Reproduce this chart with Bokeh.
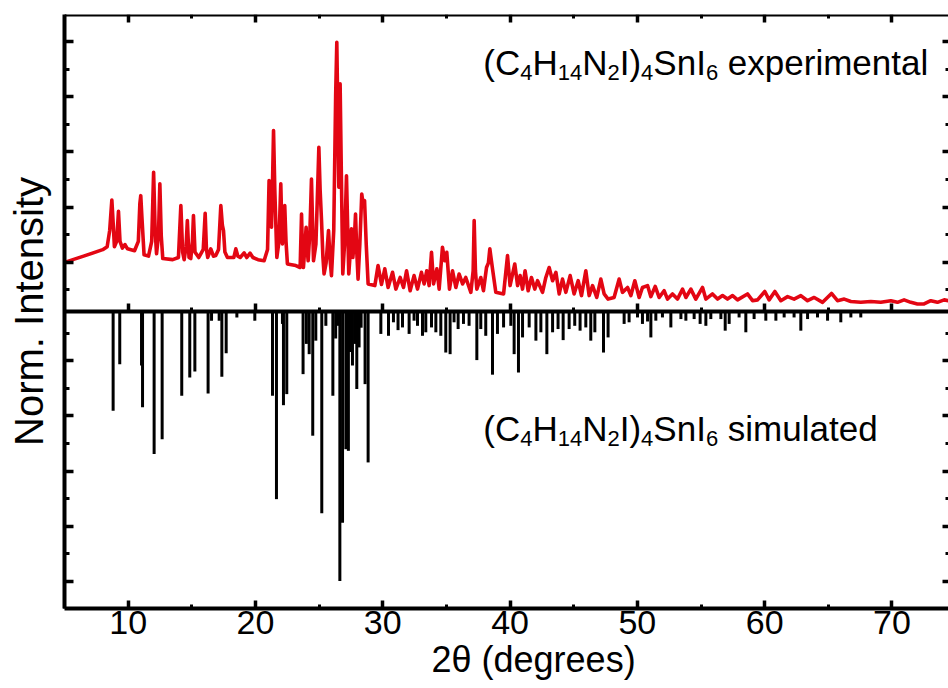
from bokeh.plotting import figure
from bokeh.models import Range1d, LinearAxis, FixedTicker, Label, Title, CustomJSTickFormatter
from bokeh.embed import file_html
from bokeh.resources import INLINE

# ---------------- data ----------------
exp_x = [5.00, 6.50, 8.00, 8.35, 8.55, 8.72, 8.82, 8.92, 9.10, 9.24, 9.36, 9.55, 9.75, 9.95,
         10.50, 10.80, 10.92, 10.99, 11.08, 11.25, 11.60, 11.85, 12.00, 12.12, 12.23, 12.38,
         12.49, 12.60, 12.72, 13.50, 13.95, 14.14, 14.28, 14.40, 14.55, 14.65, 14.78, 14.92,
         15.05, 15.13, 15.25, 15.55, 15.90, 16.05, 16.15, 16.25, 16.49, 16.70, 16.88, 17.10,
         17.28, 17.40, 17.49, 17.60, 17.80, 18.30, 18.46, 18.62, 18.80, 19.11, 19.32, 19.58,
         19.80, 20.20, 20.68, 20.95, 21.07, 21.18, 21.26, 21.35, 21.42, 21.52, 21.68, 21.85,
         21.99, 22.08, 22.12, 22.22, 22.30, 22.40, 22.51, 23.17, 23.51, 23.62, 23.70, 23.77,
         23.88, 23.98, 24.06, 24.14, 24.28, 24.40, 24.50, 24.56, 24.75, 24.90, 24.98, 25.08,
         25.19, 25.30, 25.39, 25.55, 25.74, 25.85, 25.97, 26.15, 26.30, 26.39, 26.48, 26.55,
         26.65, 26.75, 26.86, 27.00, 27.15, 27.25, 27.33, 27.45, 27.54, 27.65, 27.75, 27.86,
         27.96, 28.06, 28.20, 28.35, 28.45, 28.57, 28.70, 28.85, 29.38, 29.63, 29.90, 30.16,
         30.42, 30.77, 31.03, 31.37, 31.63, 31.87, 32.15, 32.46, 32.73, 33.04, 33.25, 33.46,
         33.64, 33.83, 33.99, 34.25, 34.43, 34.69, 34.87, 35.03, 35.24, 35.48, 35.74, 36.00,
         36.27, 36.52, 36.92, 37.10, 37.18, 37.28, 37.39, 37.70, 37.91, 38.15, 38.30, 38.41,
         38.62, 38.88, 39.49, 39.80, 40.00, 40.37, 40.59, 40.79, 40.98, 41.18, 41.42, 41.68,
         41.94, 42.16, 42.55, 42.81, 43.07, 43.34, 43.60, 43.86, 44.12, 44.38, 44.72, 45.03,
         45.35, 45.61, 45.95, 46.21, 46.48, 46.81, 47.13, 47.39, 47.70, 48.17, 48.57, 48.83,
         49.23, 49.49, 49.80, 50.14, 50.40, 50.80, 51.06, 51.40, 51.71, 52.10, 52.37, 52.76,
         53.15, 53.55, 53.81, 54.20, 54.59, 55.12, 55.38, 55.90, 56.30, 56.69, 57.08, 57.48,
         57.87, 58.65, 59.05, 59.44, 60.01, 60.35, 60.80, 61.27, 61.80, 62.31, 62.84, 63.37,
         63.89, 64.55, 65.25, 65.72, 66.25, 66.77, 67.55, 68.34, 69.12, 69.91, 70.43, 70.95,
         71.48, 72.00, 72.52, 73.05, 73.57, 74.10, 74.44]
exp_y = [0.182, 0.205, 0.229, 0.240, 0.300, 0.413, 0.330, 0.240, 0.260, 0.371, 0.260, 0.235, 0.248, 0.232,
         0.225, 0.260, 0.400, 0.429, 0.350, 0.210, 0.205, 0.260, 0.516, 0.300, 0.214, 0.280,
         0.473, 0.280, 0.196, 0.192, 0.200, 0.392, 0.220, 0.192, 0.240, 0.337, 0.200, 0.196,
         0.260, 0.355, 0.220, 0.200, 0.230, 0.364, 0.230, 0.200, 0.232, 0.205, 0.207, 0.230,
         0.392, 0.320, 0.300, 0.220, 0.200, 0.200, 0.232, 0.205, 0.200, 0.217, 0.200, 0.216,
         0.200, 0.192, 0.188, 0.230, 0.485, 0.380, 0.312, 0.500, 0.670, 0.450, 0.200, 0.260,
         0.473, 0.300, 0.250, 0.330, 0.392, 0.260, 0.176, 0.170, 0.163, 0.361, 0.200, 0.163,
         0.240, 0.312, 0.230, 0.188, 0.300, 0.491, 0.300, 0.188, 0.250, 0.480, 0.608, 0.450,
         0.337, 0.200, 0.139, 0.180, 0.300, 0.200, 0.133, 0.300, 0.800, 0.997, 0.700, 0.460,
         0.843, 0.500, 0.139, 0.250, 0.503, 0.300, 0.139, 0.220, 0.306, 0.200, 0.250, 0.361,
         0.220, 0.120, 0.250, 0.435, 0.400, 0.411, 0.250, 0.102, 0.096, 0.170, 0.100, 0.158,
         0.089, 0.145, 0.083, 0.126, 0.089, 0.151, 0.077, 0.133, 0.083, 0.145, 0.102, 0.151,
         0.096, 0.219, 0.102, 0.158, 0.083, 0.238, 0.188, 0.219, 0.083, 0.151, 0.089, 0.139,
         0.102, 0.126, 0.071, 0.150, 0.337, 0.150, 0.083, 0.126, 0.077, 0.163, 0.180, 0.232,
         0.158, 0.071, 0.065, 0.207, 0.096, 0.176, 0.096, 0.133, 0.083, 0.151, 0.077, 0.126,
         0.083, 0.114, 0.071, 0.126, 0.163, 0.114, 0.145, 0.065, 0.120, 0.071, 0.133, 0.065,
         0.114, 0.059, 0.151, 0.059, 0.096, 0.052, 0.120, 0.065, 0.046, 0.052, 0.120, 0.071,
         0.089, 0.059, 0.114, 0.052, 0.089, 0.096, 0.055, 0.093, 0.052, 0.077, 0.046, 0.065,
         0.046, 0.083, 0.052, 0.083, 0.046, 0.089, 0.046, 0.065, 0.046, 0.059, 0.046, 0.059,
         0.043, 0.065, 0.040, 0.043, 0.074, 0.043, 0.074, 0.040, 0.055, 0.046, 0.059, 0.040,
         0.052, 0.034, 0.067, 0.040, 0.046, 0.037, 0.034, 0.037, 0.034, 0.040, 0.034, 0.043,
         0.034, 0.028, 0.028, 0.040, 0.034, 0.043, 0.040]

sim_x = [8.82, 9.34, 11.05, 11.13, 12.04, 12.67, 14.21, 14.84, 15.24, 16.28, 16.55, 17.15,
         17.36, 17.70, 18.54, 19.95, 21.34, 21.65, 22.12, 22.20, 22.46, 23.74, 24.00, 24.22,
         24.50, 24.74, 25.21, 25.53, 26.08, 26.30, 26.49, 26.63, 26.84, 27.10, 27.30, 27.45,
         27.62, 27.80, 27.96, 28.14, 28.30, 28.61, 28.85, 29.85, 30.45, 30.84, 31.20, 31.55,
         32.07, 32.46, 32.73, 33.12, 33.38, 33.83, 34.17, 34.56, 34.95, 35.29, 35.60, 35.92,
         36.34, 36.78, 37.39, 37.70, 38.09, 38.62, 39.01, 39.49, 40.06, 40.32, 40.66, 40.98,
         41.50, 42.03, 42.42, 42.89, 43.34, 43.77, 44.17, 44.64, 45.08, 45.50, 45.95, 46.34,
         46.66, 47.34, 47.70, 48.96, 49.35, 50.01, 50.40, 50.80, 51.06, 51.45, 51.97, 52.63,
         53.42, 53.81, 54.46, 54.93, 55.38, 55.77, 56.56, 56.90, 57.21, 57.99, 58.52, 59.17,
         60.09, 60.88, 61.53, 62.31, 62.84, 63.37, 64.15, 64.94, 65.98, 66.77, 67.55]
sim_y = [-0.368, -0.195, -0.200, -0.355, -0.528, -0.473, -0.312, -0.244, -0.222, -0.304, -0.034, -0.034,
         -0.242, -0.155, -0.022, -0.034, -0.312, -0.695, -0.046, -0.347, -0.306, -0.232, -0.120, -0.158,
         -0.460, -0.108, -0.747, -0.053, -0.312, -0.100, -0.053, -0.998, -0.782, -0.510, -0.516, -0.150,
         -0.200, -0.120, -0.287, -0.133, -0.060, -0.269, -0.559, -0.083, -0.090, -0.040, -0.069, -0.059,
         -0.083, -0.034, -0.053, -0.090, -0.077, -0.059, -0.077, -0.090, -0.152, -0.158, -0.040, -0.065,
         -0.046, -0.053, -0.180, -0.065, -0.090, -0.234, -0.083, -0.059, -0.053, -0.158, -0.226, -0.096,
         -0.059, -0.108, -0.077, -0.158, -0.077, -0.065, -0.106, -0.065, -0.053, -0.071, -0.059, -0.108,
         -0.077, -0.152, -0.096, -0.046, -0.040, -0.022, -0.046, -0.037, -0.096, -0.034, -0.022, -0.059,
         -0.028, -0.034, -0.028, -0.046, -0.053, -0.028, -0.028, -0.071, -0.046, -0.022, -0.077, -0.028,
         -0.034, -0.034, -0.022, -0.022, -0.071, -0.028, -0.022, -0.034, -0.040, -0.022, -0.022]

x_major = [10, 20, 30, 40, 50, 60, 70]
x_minor = [5, 15, 25, 35, 45, 55, 65]
y_major = [-1.0, -0.796, -0.591, -0.387, -0.183, 0.183, 0.387, 0.591, 0.796, 1.0]
y_minor = [-0.897, -0.693, -0.489, -0.285, -0.081, 0.081, 0.285, 0.489, 0.693, 0.897]

formula_parts = ["(C", "4", "H", "14", "N", "2", "I)", "4", "SnI", "6"]
formula_is_sub = [False, True, False, True, False, True, False, True, False, True]
exp_label = "experimental"
sim_label = "simulated"
x_title = "2\u03b8 (degrees)"
y_title = "Norm. Intensity"

# ---------------- styling ----------------
FONT = "Liberation Sans"
RED = "#e30613"
X0, X1 = 5.0, 74.44
Y0, Y1 = -1.1, 1.1

p = figure(width=948, height=688, x_range=Range1d(X0, X1), y_range=Range1d(Y0, Y1),
           output_backend="svg", toolbar_location=None,
           min_border_left=64, min_border_right=0, min_border_top=14, min_border_bottom=80)
p.outline_line_color = None
p.grid.visible = False
p.background_fill_color = "white"
p.border_fill_color = "white"

blank = CustomJSTickFormatter(code="return ''")

def style_axis(ax, maj_in, min_in, line=True):
    ax.major_tick_in = maj_in
    ax.major_tick_out = 0
    ax.minor_tick_in = min_in
    ax.minor_tick_out = 0
    ax.major_tick_line_width = 3.5
    ax.minor_tick_line_width = 3
    ax.major_tick_line_color = "black"
    ax.minor_tick_line_color = "black"
    ax.axis_line_width = 4
    ax.axis_line_color = "black" if line else None

# bottom axis
xb = p.xaxis[0]
xb.ticker = FixedTicker(ticks=x_major, minor_ticks=x_minor)
style_axis(xb, 8, 4)
xb.major_label_text_font = FONT
xb.major_label_text_font_size = "34px"
xb.major_label_text_color = "black"
xb.major_label_standoff = 2

# x title, placed below the tick labels and shifted right as in the reference
p.add_layout(Title(text=x_title, align="left", offset=367, standoff=0, text_font=FONT,
                   text_font_size="36px", text_font_style="normal", text_color="black"), "below")

# left axis
yl = p.yaxis[0]
yl.ticker = FixedTicker(ticks=y_major, minor_ticks=y_minor)
style_axis(yl, 9, 5)
yl.formatter = blank
yl.major_label_standoff = 0
yl.axis_label = y_title
yl.axis_label_text_font = FONT
yl.axis_label_text_font_size = "40px"
yl.axis_label_text_font_style = "normal"
yl.axis_label_text_color = "black"
yl.axis_label_standoff = 14

# top axis (frame top)
xt = LinearAxis(ticker=FixedTicker(ticks=x_major, minor_ticks=x_minor), formatter=blank,
                fixed_location=Y1, major_label_standoff=0)
style_axis(xt, 8, 4)
p.add_layout(xt, "above")

# right axis (ticks only, frame line outside the picture)
yr = LinearAxis(ticker=FixedTicker(ticks=y_major, minor_ticks=y_minor), formatter=blank,
                fixed_location=X1, major_label_standoff=0)
style_axis(yr, 6, 3, line=False)
p.add_layout(yr, "right")

# zero line with upward ticks
xz = LinearAxis(ticker=FixedTicker(ticks=x_major, minor_ticks=x_minor), formatter=blank,
                fixed_location=0, major_label_standoff=0)
style_axis(xz, 8, 4)
p.add_layout(xz, "below")

# data
p.segment(x0=sim_x, y0=[0] * len(sim_x), x1=sim_x, y1=sim_y, line_color="black", line_width=3)
p.line(exp_x, exp_y, line_color=RED, line_width=3.6, line_join="round")

# formula labels
W = {'(': 333, ')': 333, 'C': 722, 'H': 722, 'N': 722, 'I': 278, 'S': 667, 'n': 556, ' ': 278,
     'e': 556, 'x': 500, 'p': 556, 'r': 333, 'i': 222, 'm': 833, 't': 278, 'a': 556, 'l': 222,
     's': 500, 'u': 556, 'd': 556}
for d in "0123456789":
    W[d] = 556

def text_width(s, size):
    return sum(W.get(c, 556) for c in s) * size / 1000.0

F_MAIN, F_SUB, SUB_DROP = 35, 22, 10

def add_formula(x, y, tail):
    off = 0.0
    parts = formula_parts + [tail]
    subs = formula_is_sub + [False]
    for i, (txt, sub) in enumerate(zip(parts, subs)):
        size = F_SUB if sub else F_MAIN
        if i == len(parts) - 1:
            off += text_width(" ", F_MAIN)
        p.add_layout(Label(x=x, y=y, x_offset=off, y_offset=(-SUB_DROP if sub else 0), text=txt,
                           text_font=FONT, text_font_size=f"{size}px", text_color="black",
                           text_align="left", text_baseline="alphabetic"))
        off += text_width(txt, size)

add_formula(37.9, 0.922, exp_label)
add_formula(37.9, -0.434, sim_label)

open("out.html", "w").write(file_html(p, INLINE))
